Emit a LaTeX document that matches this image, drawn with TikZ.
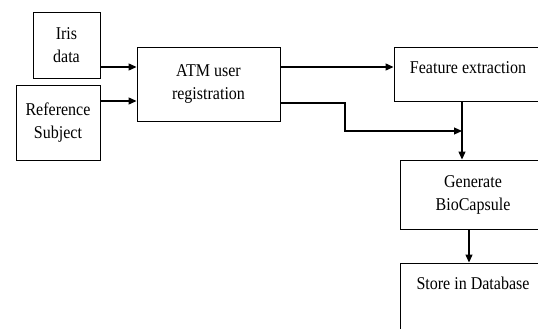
\documentclass[tikz,border=0pt]{standalone}
\usepackage{fontspec}
\setmainfont{Liberation Serif}[FakeStretch=0.89]
\usetikzlibrary{arrows.meta}

\tikzset{
  stepbox/.style={draw, line width=0.9pt, align=center, inner sep=0pt},
  flow/.style={draw, line width=1.2pt, -{Triangle[length=8pt,width=7pt]}},
}

\begin{document}
\begin{tikzpicture}[x=1pt, y=-1pt, font=\fontsize{18}{23}\selectfont]
\useasboundingbox (0,0) rectangle (538,329);
\clip (0,0) rectangle (538,329);

\node[stepbox, minimum width=67, minimum height=66] (iris) at (66.5,45) {Iris\\data};
\node[stepbox, minimum width=84, minimum height=75] (ref) at (58,122.5) {Reference\\Subject};
\node[stepbox, minimum width=143, minimum height=74] (atm) at (208.5,84) {ATM user\\registration};

\node[stepbox, minimum width=148, minimum height=54] (feat) at (468,74) {};
\node (featT) at (468,68) {Feature extraction};
\node[stepbox, minimum width=146, minimum height=69] (gen) at (473,194.5) {Generate\\BioCapsule};
\node[stepbox, minimum width=146, minimum height=90] (store) at (473,308) {};
\node (storeT) at (473,283) {Store in Database};

\coordinate (join) at (462,131);

\path[flow] (iris.east |- 0,67) -- (atm.west |- 0,67);
\path[flow] (ref.east |- 0,101) -- (atm.west |- 0,101);
\path[flow] (atm.east |- 0,67) -- (feat.west |- 0,67);
\path[flow] (atm.east |- 0,103) -- (345,103) -- (345,131) -- (join);
\path[flow] (feat.south -| join) -- (gen.north -| join);
\path[flow] (gen.south -| 469,0) -- (store.north -| 469,0);
\end{tikzpicture}
\end{document}
